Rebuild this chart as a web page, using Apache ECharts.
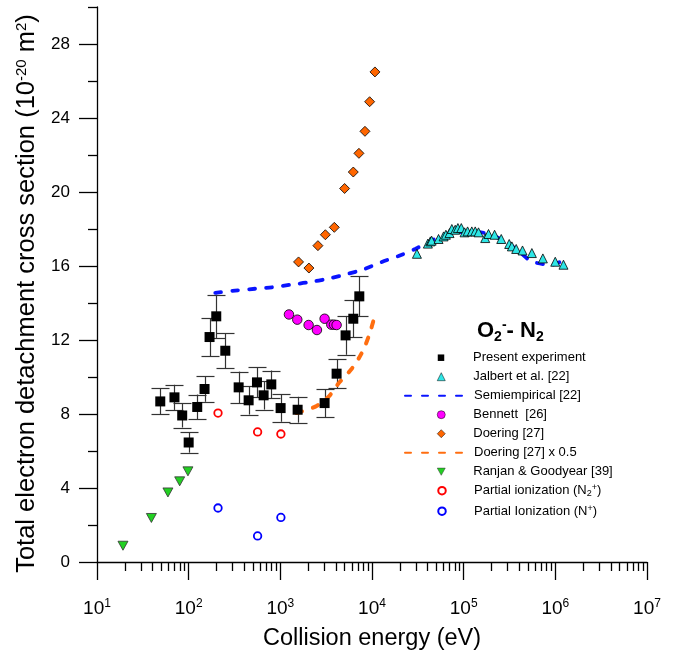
<!DOCTYPE html>
<html><head><meta charset="utf-8">
<script src="https://cdn.jsdelivr.net/npm/echarts@6/dist/echarts.min.js"></script>
<style>html,body{margin:0;padding:0;background:#fff}#c{width:682px;height:651px}</style>
</head><body><div id="c"></div>
<script>
// ---- data ----
const presentE   = [49,70,85,100,124,149,169,200,251,351,451,556,657,797,1007,1544,3040,4110,5150,6250,7270];
const presentY   = [8.68,8.90,7.92,6.46,8.38,9.35,12.16,13.28,11.42,9.44,8.74,9.71,9.01,9.60,8.32,8.23,8.59,10.18,12.25,13.15,14.36];
const presentErr = [0.70,0.68,0.65,0.55,0.67,0.69,1.03,1.17,0.94,0.85,0.77,0.81,0.77,0.75,0.74,0.70,0.76,0.79,1.05,1.00,1.08];

const jalbertE = [30900,40700,43300,44700,53200,60400,64000,70100,74300,80900,86500,94200,102300,110400,122700,133700,145200,171800,186600,217300,257000,314000,335700,374100,438500,554600,731100,997700,1227000];
const jalbertY = [16.66,17.21,17.33,17.37,17.46,17.60,17.69,17.78,18.00,17.96,18.05,18.05,17.82,17.87,17.87,17.87,17.82,17.51,17.73,17.69,17.46,17.19,17.06,16.92,16.84,16.70,16.41,16.23,16.07];

const semiE = [195,320,530,810,1340,2040,3360,5120,8100,12800,19500,29600,45000,68400,113000,172000,261000,380000,555000,916000,1390000];
const semiY = [14.55,14.67,14.77,14.85,15.00,15.12,15.32,15.54,15.82,16.22,16.54,16.92,17.38,17.75,17.85,17.78,17.42,16.88,16.25,16.07,16.49];

const bennettE = [1242,1531,2035,2508,3040,3597,3846,4111];
const bennettY = [13.38,13.10,12.81,12.54,13.15,12.83,12.83,12.81];

const doeringE = [1580,2050,2570,3100,3880,5025,6250,7200,8380,9420,10770];
const doeringY = [16.22,15.89,17.10,17.69,18.09,20.19,21.08,22.09,23.28,24.88,26.49];

const doeringHalfE = [1500,2410,3365,4325,6040,7760,9350,10700];
const doeringHalfY = [8.05,8.40,8.94,9.66,10.46,11.31,12.29,13.30];

const ranjanE = [19.2,39.2,59.4,79.8,98.2];
const ranjanY = [0.88,2.38,3.76,4.36,4.90];

const n2plusE = [209,565,1014];
const n2plusY = [8.05,7.03,6.92];
const nplusE  = [209,565,1014];
const nplusY  = [2.92,1.41,2.41];

const yMajorTicks = [0,4,8,12,16,20,24,28];
const yMinorTicks = [2,6,10,14,18,22,26,30];
const xDecades = [1,2,3,4,5,6];

const seriesNames = ['Present experiment','Jalbert et al. [22]','Semiempirical [22]','Bennett  [26]','Doering [27]','Doering [27] x 0.5','Ranjan & Goodyear [39]','Partial ionization (N2+)','Partial Ionization (N+)'];
const lineNames = ['Semiempirical [22]','Doering [27] x 0.5'];
const legendRich = {
  'Partial ionization (N2+)': 'Partial ionization (N{sub|2}{sup|+})',
  'Partial Ionization (N+)': 'Partial Ionization (N{sup|+})'
};
// ---------------------------------------

const FONT = '"Liberation Sans", Arial, sans-serif';
const DOWN_TRIANGLE = 'path://M0,0 L10,0 L5,9 Z';
const zip = (a, b) => a.map((v, i) => [v, b[i]]);
const xMinorTicks = [];
xDecades.forEach(d => { for (let m = 2; m <= 9; m++) xMinorTicks.push(m * Math.pow(10, d)); });

const tickStyle = { stroke: '#000', lineWidth: 1.3 };
const ebStyle = { stroke: '#333', lineWidth: 1.2 };
const px = v => Math.round(v) + 0.5;

// legend layout: one legend component per row so symbols keep their shape
const legendRowCenters = [357.7, 376.7, 395.7, 414.7, 433.7, 452.7, 471.7, 490.7, 511.2];
const legendIconSize = [6.5, 8, 0, 8, 8, 0, 8, 7.5, 7.5];
const ICON_CX = 441, TEXT_X = 473, LINE_L = 404, LINE_R = 461;
const legendText = {
  fontSize: 13, fontFamily: FONT, color: '#000', lineHeight: 15,
  rich: {
    sub: { fontSize: 9, fontFamily: FONT, color: '#000', verticalAlign: 'bottom', lineHeight: 9 },
    sup: { fontSize: 9, fontFamily: FONT, color: '#000', verticalAlign: 'top', lineHeight: 9 }
  }
};
const legends = seriesNames.map((n, i) => {
  const isLine = lineNames.includes(n);
  const w = isLine ? (LINE_R - LINE_L) : legendIconSize[i];
  const h = isLine ? 7 : legendIconSize[i];
  const left = isLine ? LINE_L : ICON_CX - w / 2;
  const padLeft = TEXT_X - (left + w + 5);
  let item = { name: n };
  if (isLine) item = { name: n, itemStyle: { color: 'rgba(0,0,0,0)', borderWidth: 0, opacity: 0 } };
  else if (n === 'Ranjan & Goodyear [39]') item = { name: n, icon: DOWN_TRIANGLE, itemStyle: { borderWidth: 0.5 } };
  else if (!n.startsWith('Partial')) item = { name: n, itemStyle: { borderWidth: 0.5 } };
  return {
    orient: 'vertical', left: left, top: legendRowCenters[i] - 7.5, padding: 0,
    itemWidth: w, itemHeight: h,
    data: [item],
    formatter: s => legendRich[s] || s,
    textStyle: Object.assign({}, legendText, { padding: [0, 0, 0, padLeft] })
  };
});

const chart = echarts.init(document.getElementById('c'), null, { renderer: 'canvas' });
chart.setOption({
  animation: false,
  backgroundColor: '#fff',
  grid: { left: 97, top: 7, right: 35, bottom: 89, containLabel: false, outerBoundsMode: 'none' },
  title: {
    text: '{b|O}{bs|2}{bp|-}{b|- N}{bs|2}',
    left: 477, top: 318, padding: 0,
    textStyle: {
      rich: {
        b:  { fontSize: 22, fontWeight: 'bold', fontFamily: FONT, color: '#000', lineHeight: 26 },
        bs: { fontSize: 14, fontWeight: 'bold', fontFamily: FONT, color: '#000', verticalAlign: 'bottom', lineHeight: 13 },
        bp: { fontSize: 14, fontWeight: 'bold', fontFamily: FONT, color: '#000', verticalAlign: 'top', lineHeight: 13 }
      }
    }
  },
  legend: legends,
  xAxis: {
    type: 'log', logBase: 10, min: 10, max: 1e7, splitNumber: 6,
    splitLine: { show: false },
    axisLine: { onZero: false, lineStyle: { color: '#000', width: 1.3 } },
    axisTick: { show: true, length: 18, lineStyle: { color: '#000', width: 1.3 } },
    minorTick: { show: false },
    axisLabel: {
      margin: 36,
      formatter: v => '{b|10}{s|' + Math.round(Math.log10(v)) + '}',
      rich: {
        b: { fontSize: 19, fontFamily: FONT, color: '#000', lineHeight: 22 },
        s: { fontSize: 12, fontFamily: FONT, color: '#000', verticalAlign: 'top', lineHeight: 12 }
      }
    },
    name: 'Collision energy (eV)', nameLocation: 'middle', nameGap: 65,
    nameTextStyle: { fontSize: 23.5, fontFamily: FONT, color: '#000' }
  },
  yAxis: {
    type: 'value', min: 0, max: 30, interval: 4,
    splitLine: { show: false },
    axisLine: { show: true, onZero: false, lineStyle: { color: '#000', width: 1.3 } },
    axisTick: { show: false },
    axisLabel: { showMaxLabel: false, margin: 27, fontSize: 17, fontFamily: FONT, color: '#000' },
    name: 'Total electron detachment cross section (10{s|-20} m{s|2})',
    nameLocation: 'middle', nameGap: 56, nameRotate: 90,
    nameTextStyle: {
      fontSize: 25.5, fontFamily: FONT, color: '#000', padding: [0, 18, 0, 0],
      rich: { s: { fontSize: 15, fontFamily: FONT, color: '#000', verticalAlign: 'top', lineHeight: 15 } }
    }
  },
  series: [
    {
      name: '__ticks', type: 'custom', coordinateSystem: 'cartesian2d', silent: true, clip: false,
      data: [[10, 0]], encode: { x: 0, y: 1 },
      renderItem: (params, api) => {
        const ch = [];
        xMinorTicks.forEach(v => {
          const p = api.coord([v, 0]);
          ch.push({ type: 'line', shape: { x1: px(p[0]), y1: p[1], x2: px(p[0]), y2: p[1] + 9 }, style: tickStyle });
        });
        yMajorTicks.forEach(v => {
          const p = api.coord([10, v]);
          ch.push({ type: 'line', shape: { x1: p[0] - 18, y1: px(p[1]), x2: p[0], y2: px(p[1]) }, style: tickStyle });
        });
        yMinorTicks.forEach(v => {
          const p = api.coord([10, v]);
          ch.push({ type: 'line', shape: { x1: p[0] - 9, y1: px(p[1]), x2: p[0], y2: px(p[1]) }, style: tickStyle });
        });
        return { type: 'group', children: ch };
      }
    },
    {
      name: '__errors', type: 'custom', coordinateSystem: 'cartesian2d', silent: true, clip: false,
      data: presentE.map((e, i) => [e, presentY[i], presentErr[i]]),
      encode: { x: 0, y: 1 },
      renderItem: (params, api) => {
        const x = api.value(0), y = api.value(1), e = api.value(2);
        const t = api.coord([x, y + e]), b = api.coord([x, y - e]);
        const cx = px(t[0]);
        return { type: 'group', children: [
          { type: 'line', shape: { x1: cx, y1: t[1], x2: cx, y2: b[1] }, style: ebStyle },
          { type: 'line', shape: { x1: cx - 9, y1: px(t[1]), x2: cx + 9, y2: px(t[1]) }, style: ebStyle },
          { type: 'line', shape: { x1: cx - 9, y1: px(b[1]), x2: cx + 9, y2: px(b[1]) }, style: ebStyle }
        ] };
      }
    },
    {
      name: 'Semiempirical [22]', type: 'line', data: zip(semiE, semiY), smooth: 0.3,
      symbol: 'none', color: '#0a14ff',
      lineStyle: { color: '#0a14ff', width: 3.8, type: [6, 11], cap: 'round' }, z: 3
    },
    {
      name: 'Doering [27] x 0.5', type: 'line', data: zip(doeringHalfE, doeringHalfY), smooth: 0.3,
      symbol: 'none', color: '#ff6e10',
      lineStyle: { color: '#ff6e10', width: 4, type: [6, 11], cap: 'round' }, z: 3
    },
    {
      name: 'Present experiment', type: 'scatter', data: zip(presentE, presentY),
      symbol: 'rect', symbolSize: 10, itemStyle: { color: '#000', opacity: 1 }, z: 5
    },
    {
      name: 'Jalbert et al. [22]', type: 'scatter', data: zip(jalbertE, jalbertY),
      symbol: 'triangle', symbolSize: 9, itemStyle: { color: '#2ee6e6', borderColor: '#000', borderWidth: 0.8, opacity: 1 }, z: 4
    },
    {
      name: 'Bennett  [26]', type: 'scatter', data: zip(bennettE, bennettY),
      symbol: 'circle', symbolSize: 9.5, itemStyle: { color: '#ff00ff', borderColor: '#000', borderWidth: 0.8, opacity: 1 }, z: 4
    },
    {
      name: 'Doering [27]', type: 'scatter', data: zip(doeringE, doeringY),
      symbol: 'diamond', symbolSize: 10, itemStyle: { color: '#ff6600', borderColor: '#000', borderWidth: 0.8, opacity: 1 }, z: 4
    },
    {
      name: 'Ranjan & Goodyear [39]', type: 'scatter', data: zip(ranjanE, ranjanY),
      symbol: DOWN_TRIANGLE, symbolSize: [10, 9], itemStyle: { color: '#22d022', borderColor: '#333', borderWidth: 0.8, opacity: 1 }, z: 4
    },
    {
      name: 'Partial ionization (N2+)', type: 'scatter', data: zip(n2plusE, n2plusY),
      symbol: 'circle', symbolSize: 7.5, itemStyle: { color: '#fff', borderColor: '#ff0000', borderWidth: 1.8, opacity: 1 }, z: 4
    },
    {
      name: 'Partial Ionization (N+)', type: 'scatter', data: zip(nplusE, nplusY),
      symbol: 'circle', symbolSize: 7.5, itemStyle: { color: '#fff', borderColor: '#0000ff', borderWidth: 1.8, opacity: 1 }, z: 4
    }
  ]
});
</script>
</body></html>
